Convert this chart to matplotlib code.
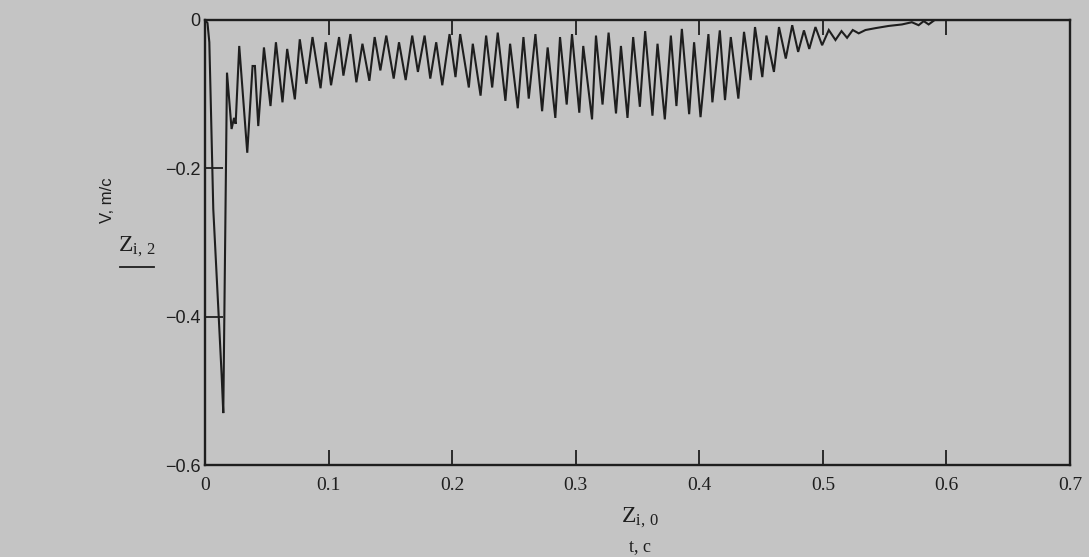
import matplotlib
matplotlib.use("Agg")
import matplotlib.pyplot as plt
from matplotlib.lines import Line2D

# ---- data (time in s, velocity in m/s) ----
t_s = [0.000, 0.002, 0.0035, 0.0048, 0.0067, 0.0108, 0.0135, 0.0148,
       0.0178, 0.0215, 0.0235, 0.0248, 0.0277, 0.0342, 0.0385, 0.0404,
       0.0431, 0.0477, 0.053, 0.0574, 0.0627, 0.0665, 0.0727, 0.0767,
       0.082, 0.087, 0.0935, 0.0977, 0.102, 0.1085, 0.112, 0.1177,
       0.1225, 0.1274, 0.133, 0.1373, 0.1419, 0.1467, 0.1527, 0.157,
       0.1624, 0.1677, 0.1723, 0.1777, 0.1823, 0.1871, 0.192, 0.1979,
       0.2027, 0.2065, 0.2135, 0.2167, 0.2230, 0.2275, 0.2324, 0.2369,
       0.2431, 0.2469, 0.2531, 0.2577, 0.262, 0.2674, 0.2728, 0.2773,
       0.2835, 0.2873, 0.2927, 0.297, 0.3029, 0.3061, 0.3132, 0.3164,
       0.3217, 0.3266, 0.3326, 0.3366, 0.3419, 0.3465, 0.3519, 0.3562,
       0.3621, 0.3662, 0.3721, 0.377, 0.3815, 0.3859, 0.3918, 0.3958,
       0.401, 0.4074, 0.4106, 0.4166, 0.4208, 0.4255, 0.4316, 0.4362,
       0.4416, 0.4451, 0.451, 0.4543, 0.4604, 0.4645, 0.470, 0.4752,
       0.480, 0.4847, 0.489, 0.494, 0.4994, 0.5048, 0.5102, 0.5151,
       0.5196, 0.5242, 0.529, 0.5345, 0.5425, 0.5533, 0.564, 0.572,
       0.5775, 0.5816, 0.5856, 0.5905, 0.700]
v_ms = [0.000, -0.004, -0.03, -0.12, -0.255, -0.39, -0.48, -0.53,
        -0.071, -0.147, -0.132, -0.140, -0.035, -0.179, -0.062, -0.062,
        -0.143, -0.037, -0.116, -0.030, -0.111, -0.039, -0.107, -0.026,
        -0.086, -0.023, -0.092, -0.030, -0.088, -0.023, -0.075, -0.019,
        -0.084, -0.032, -0.082, -0.023, -0.068, -0.021, -0.079, -0.030,
        -0.081, -0.021, -0.070, -0.021, -0.079, -0.030, -0.088, -0.019,
        -0.077, -0.019, -0.091, -0.032, -0.102, -0.021, -0.091, -0.017,
        -0.109, -0.032, -0.119, -0.023, -0.106, -0.019, -0.123, -0.037,
        -0.132, -0.023, -0.114, -0.019, -0.125, -0.035, -0.134, -0.021,
        -0.114, -0.017, -0.126, -0.035, -0.132, -0.023, -0.117, -0.015,
        -0.129, -0.032, -0.134, -0.021, -0.116, -0.012, -0.127, -0.030,
        -0.131, -0.019, -0.111, -0.014, -0.108, -0.023, -0.106, -0.016,
        -0.081, -0.0095, -0.077, -0.021, -0.070, -0.0095, -0.052, -0.007,
        -0.043, -0.014, -0.039, -0.0095, -0.034, -0.0135, -0.027, -0.015,
        -0.024, -0.0135, -0.018, -0.0135, -0.011, -0.008, -0.006, -0.003,
        -0.007, -0.0015, -0.006, 0.000, 0.000]

x_ticks = [0, 0.1, 0.2, 0.3, 0.4, 0.5, 0.6, 0.7]
x_tick_labels = ["0", "0.1", "0.2", "0.3", "0.4", "0.5", "0.6", "0.7"]
y_ticks = [0, -0.2, -0.4, -0.6]
y_tick_labels = ["0", "\u22120.2", "\u22120.4", "\u22120.6"]

BG = "#c4c4c4"
INK = "#1e1e1e"
W, H = 1089, 557

plt.rcParams['font.family'] = ['Liberation Serif', 'DejaVu Serif']
plt.rcParams['mathtext.fontset'] = 'custom'
plt.rcParams['mathtext.rm'] = 'Liberation Serif'
plt.rcParams['mathtext.it'] = 'Liberation Serif'

fig = plt.figure(figsize=(W / 100, H / 100), dpi=100, facecolor=BG)
ax = fig.add_axes([205 / W, 1 - 465 / H, (1070 - 205) / W, (465 - 20) / H])
ax.set_facecolor(BG)

ax.plot(t_s, v_ms, color=INK, lw=1.5, solid_joinstyle='miter')

ax.set_xlim(0, 0.7)
ax.set_ylim(-0.6, 0)
ax.set_xticks(x_ticks)
ax.set_xticklabels(x_tick_labels)
ax.set_yticks(y_ticks)
ax.set_yticklabels(y_tick_labels)
for lab in ax.get_yticklabels():
    lab.set_family(['Liberation Sans', 'DejaVu Sans'])

for s in ax.spines.values():
    s.set_linewidth(1.7)
    s.set_color(INK)

ax.tick_params(axis='x', direction='in', length=11, width=1.3, colors=INK,
               labelsize=14, pad=9, top=True, bottom=True)
ax.tick_params(axis='y', direction='in', length=13, width=1.3, colors=INK,
               labelsize=13, pad=3, left=True, right=False)

# axis labels (Mathcad style)
fig.text(108 / W, 1 - 200 / H, "V, m/c", rotation=90, ha='center', va='center',
         fontsize=12, color=INK, family=['Liberation Sans', 'DejaVu Sans'])
fig.text(137 / W, 1 - 247 / H, r"$\mathregular{Z_{i,\,2}}$", ha='center', va='center',
         fontsize=17, color=INK)
fig.add_artist(Line2D([120 / W, 154 / W], [1 - 267 / H, 1 - 267 / H],
                      transform=fig.transFigure, color=INK, lw=1.3))
fig.text(640 / W, 1 - 518 / H, r"$\mathregular{Z_{i,\,0}}$", ha='center', va='center',
         fontsize=17, color=INK)
fig.text(640 / W, 1 - 547 / H, "t, c", ha='center', va='center',
         fontsize=13, color=INK)

fig.savefig("out.png", dpi=100, facecolor=BG)
